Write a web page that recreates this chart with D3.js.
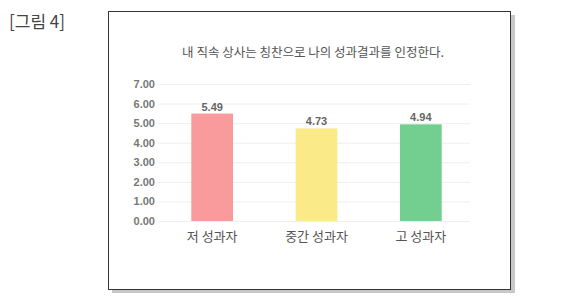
<!DOCTYPE html>
<html>
<head>
<meta charset="utf-8">
<script src="https://cdn.jsdelivr.net/npm/d3@7"></script>
<style>
  body { margin: 0; background: #fff; font-family: "Noto Sans CJK KR", "Noto Sans", sans-serif; }
</style>
</head>
<body>
<div id="chart"></div>
<script>
var width = 580, height = 297;

// data
var categories = ['저 성과자', '중간 성과자', '고 성과자'];
var values = [5.49, 4.73, 4.94];
var colors = ['#f99b9c', '#faeb88', '#72cf90'];
var yTicks = [0, 1, 2, 3, 4, 5, 6, 7];

var svg = d3.select('#chart')
  .append('svg')
  .attr('width', width)
  .attr('height', height);

svg.append('text')
  .attr('x', 9)
  .attr('y', 28)
  .style('font-size', '17px')
  .style('fill', '#444')
  .text('[그림 4]');

// frame with a soft shadow
svg.append('rect')
  .attr('x', 112).attr('y', 15)
  .attr('width', 403).attr('height', 278)
  .attr('fill', '#c8c8c8');
svg.append('rect')
  .attr('x', 108.5).attr('y', 11.5)
  .attr('width', 402).attr('height', 278)
  .attr('fill', '#fff')
  .attr('stroke', '#333')
  .attr('stroke-width', 1);

svg.append('text')
  .attr('x', 313)
  .attr('y', 57)
  .attr('text-anchor', 'middle')
  .style('font-size', '12.5px')
  .style('fill', '#555')
  .text('내 직속 상사는 칭찬으로 나의 성과결과를 인정한다.');

var x = d3.scaleBand()
  .domain(categories)
  .range([160, 473])
  .paddingInner(0.6)
  .paddingOuter(0.3);

var y = d3.scaleLinear()
  .domain([0, 7])
  .range([221, 84]);

// grid lines
svg.append('g')
  .selectAll('line')
  .data(yTicks)
  .enter()
  .append('line')
  .attr('x1', 158).attr('x2', 470)
  .attr('y1', function(d) { return y(d) + 0.5; })
  .attr('y2', function(d) { return y(d) + 0.5; })
  .attr('stroke', '#efefef');

var yAxis = svg.append('g')
  .attr('transform', 'translate(155,0)')
  .call(d3.axisLeft(y).tickValues(yTicks).tickSize(0).tickPadding(0).tickFormat(d3.format('.2f')));
yAxis.select('.domain').remove();
yAxis.selectAll('text')
  .style('font-family', '"Liberation Sans", Arial, sans-serif')
  .style('font-size', '11px')
  .style('font-weight', 'bold')
  .style('fill', '#777');

svg.append('g')
  .selectAll('rect')
  .data(values)
  .enter()
  .append('rect')
  .attr('x', function(d, i) { return x(categories[i]); })
  .attr('y', function(d) { return y(d); })
  .attr('width', x.bandwidth())
  .attr('height', function(d) { return y(0) - y(d); })
  .attr('fill', function(d, i) { return colors[i]; });

svg.append('g')
  .selectAll('text')
  .data(values)
  .enter()
  .append('text')
  .attr('x', function(d, i) { return x(categories[i]) + x.bandwidth() / 2; })
  .attr('y', function(d) { return y(d) - 3; })
  .attr('text-anchor', 'middle')
  .style('font-family', '"Liberation Sans", Arial, sans-serif')
  .style('font-size', '11px')
  .style('font-weight', 'bold')
  .style('fill', '#666')
  .text(function(d) { return d.toFixed(2); });

var xAxis = svg.append('g')
  .attr('transform', 'translate(0,' + y(0) + ')')
  .call(d3.axisBottom(x).tickSize(0).tickPadding(11));
xAxis.select('.domain').remove();
xAxis.selectAll('text')
  .style('font-family', '"Noto Sans CJK KR", sans-serif')
  .style('font-size', '13px')
  .style('fill', '#555');
</script>
</body>
</html>
